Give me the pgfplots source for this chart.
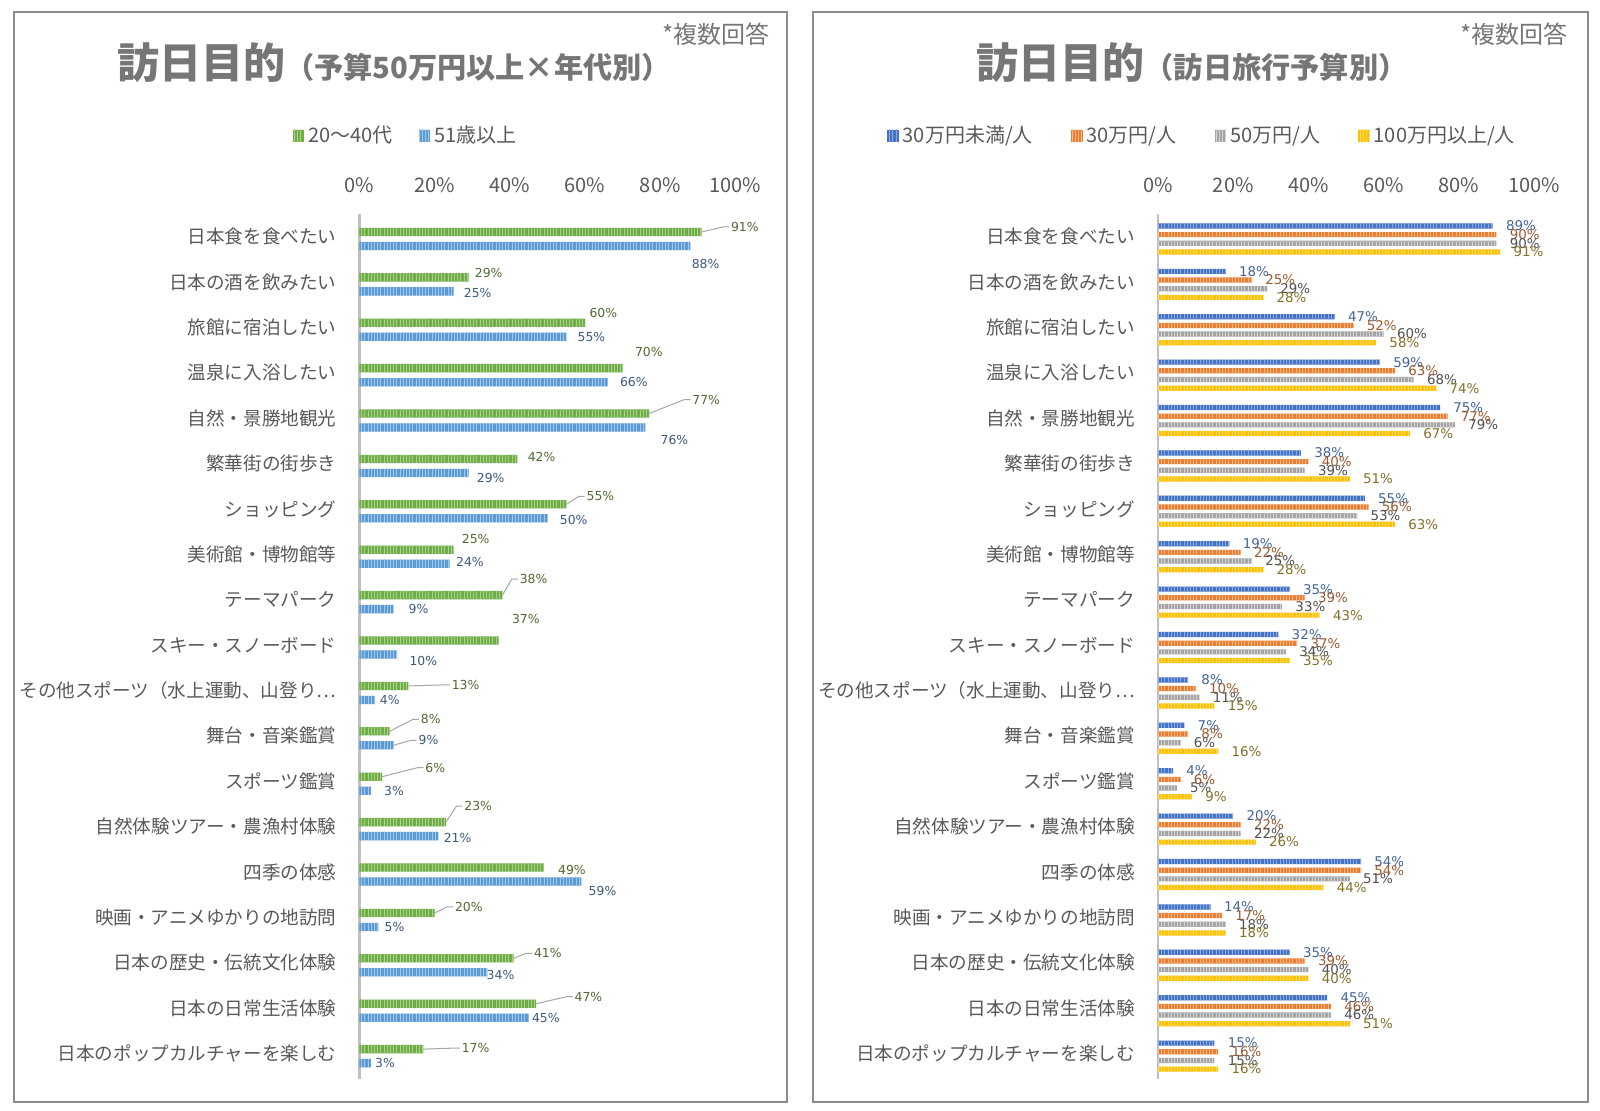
\documentclass[border=0pt]{standalone}
\usepackage{fontspec}
\setmainfont{Noto Sans CJK JP}
\newfontfamily\lbl{DejaVu Sans}
\usepackage{pgfplots}
\pgfplotsset{compat=1.18}
\usepackage{pgfplotstable}
\usetikzlibrary{patterns.meta}

\definecolor{gA}{HTML}{70AD47}\definecolor{gAl}{HTML}{A9D18E}
\definecolor{bA}{HTML}{5B9BD5}\definecolor{bAl}{HTML}{A4C8EA}
\definecolor{c1}{HTML}{4472C4}\definecolor{c1l}{HTML}{8FAADC}
\definecolor{c2}{HTML}{ED7D31}\definecolor{c2l}{HTML}{F6B98C}
\definecolor{c3}{HTML}{A5A5A5}\definecolor{c3l}{HTML}{D2D2D2}
\definecolor{c4}{HTML}{FFC000}\definecolor{c4l}{HTML}{FFDC73}
\definecolor{txt}{HTML}{595959}
\definecolor{ttl}{HTML}{767676}
\definecolor{border}{HTML}{8C8C8C}
\definecolor{axisgray}{HTML}{BFBFBF}
\definecolor{ldr}{HTML}{A6A6A6}
\definecolor{lG}{HTML}{4F6B30}
\definecolor{lB}{HTML}{3D5A80}
\definecolor{l1}{HTML}{44649A}
\definecolor{l2}{HTML}{9C5A30}
\definecolor{l3}{HTML}{505050}
\definecolor{l4}{HTML}{85702A}

\pgfplotstableread{
y g goff gdy glead b boff bdy blead
18 91 29 -5 1 88 1 18 0
17 29 6 -4 0 25 10 2 0
16 60 4 -10 0 55 11 0 0
15 70 12 -16 0 66 12 0 0
14 77 43 -14 1 76 15 12 0
13 42 10 -2 0 29 8 5 0
12 55 20 -8 1 50 12 2 0
11 25 8 -11 0 24 6 -2 0
10 38 17 -16 1 9 15 0 0
9 37 13 -22 0 10 12 6 0
8 13 43 -1 1 4 5 0 0
7 8 31 -12 1 9 25 -5 1
6 6 43 -9 1 3 13 0 0
5 23 18 -16 1 21 5 2 0
4 49 14 2 0 59 7 9 0
3 20 20 -6 1 5 6 0 0
2 41 20 -5 1 34 -1 3 0
1 47 38 -7 1 45 3 0 0
0 17 38 -1 1 3 4 0 0
}\leftdata

\pgfplotstableread{
y a b c d
18 89 90 90 91
17 18 25 29 28
16 47 52 60 58
15 59 63 68 74
14 75 77 79 67
13 38 40 39 51
12 55 56 53 63
11 19 22 25 28
10 35 39 33 43
9 32 37 34 35
8 8 10 11 15
7 7 8 6 16
6 4 6 5 9
5 20 22 22 26
4 54 54 51 44
3 14 17 18 18
2 35 39 40 40
1 45 46 46 51
0 15 16 15 16
}\rightdata

\pgfplotsset{
 panel/.style={
  scale only axis, width=188pt, height=432.4pt,
  xmin=0, xmax=100, ymin=-0.5, ymax=18.55,
  axis y line*=left, axis x line*=top,
  x axis line style={draw=none},
  y axis line style={draw=axisgray, line width=1.3pt, -},
  xtick={0,20,40,60,80,100},
  xticklabels={0\%,20\%,40\%,60\%,80\%,100\%},
  ytick={0,...,18},
  yticklabels={日本のポップカルチャーを楽しむ, 日本の日常生活体験, 日本の歴史・伝統文化体験, 映画・アニメゆかりの地訪問, 四季の体感, 自然体験ツアー・農漁村体験, スポーツ鑑賞, 舞台・音楽鑑賞, {その他スポーツ（水上運動、山登り…}, スキー・スノーボード, テーマパーク, 美術館・博物館等, ショッピング, 繁華街の街歩き, 自然・景勝地観光, 温泉に入浴したい, 旅館に宿泊したい, 日本の酒を飲みたい, 日本食を食べたい},
  major tick length=0pt,
  tick style={draw=none},
  xticklabel style={font=\fontsize{10}{12}\selectfont, text=txt, yshift=7pt},
  yticklabel style={font=\fontsize{9.3}{11}\selectfont, text=txt, xshift=-8pt, yshift=1.2pt},
  clip=false,
  legend style={draw=none, fill=none, legend columns=-1, font=\fontsize{10}{12}\selectfont, text=txt, inner sep=0pt},
  legend image code/.code={\fill[##1] (0pt,-3pt) rectangle (5.8pt,3pt);},
 },
 bars/.style 2 args={xbar, draw=none, fill=#1,
   postaction={pattern={Lines[angle=90,distance=1.6pt,line width=0.45pt]}, pattern color=#2}},
 mylabels/.style n args={5}{
    nodes near coords={\pgfmathprintnumber{\pgfplotspointmeta}\%},
    point meta=x,
    visualization depends on={\thisrow{#1} \as \loff},
    visualization depends on={\thisrow{#2} \as \ldy},
    visualization depends on={\thisrow{#3} \as \llead},
    every node near coord/.style={anchor=west, inner sep=0pt, text=#4, font=\lbl\fontsize{6.2}{7.5}\selectfont,
      /pgf/number format/assume math mode=true,
      xshift={\loff*0.5pt}, yshift={#5+\ldy*(-0.5pt)},
      append after command={(\tikzlastnode.west) edge[draw=ldr, fill=none, line width=0.5pt, opacity=\llead, to path={++(-0.8pt,0pt) -- ++(-3pt,0pt) -- (\tikztotarget)}] ([xshift={\loff*(-0.5pt)}, yshift={\ldy*0.5pt}]\tikzlastnode.west)}
    },
 },
 rlab/.style 2 args={nodes near coords={\pgfmathprintnumber{\pgfplotspointmeta}\%}, point meta=x,
    every node near coord/.style={anchor=west, inner sep=0pt, text=#1, font=\lbl\fontsize{6.7}{7.5}\selectfont,
      /pgf/number format/assume math mode=true, xshift=6.5pt, yshift=#2}},
}

\begin{document}
\begin{tikzpicture}[x=1pt,y=1pt]
\path[fill=white] (0,0) rectangle (800,-555.5);
\draw[draw=border, line width=1pt] (7,-6) rectangle (393.5,-551);
\draw[draw=border, line width=1pt] (406.5,-6) rectangle (794,-551);

\node[anchor=center, text=ttl, inner sep=0pt] at (197,-31.5) {{\fontsize{21}{25}\selectfont\bfseries 訪日目的}{\fontsize{14.6}{16}\selectfont\bfseries （予算50万円以上×年代別）}};
\node[anchor=center, text=ttl, inner sep=0pt] at (596,-31.5) {{\fontsize{21}{25}\selectfont\bfseries 訪日目的}{\fontsize{14.6}{16}\selectfont\bfseries （訪日旅行予算別）}};
\node[anchor=east, text=ttl, inner sep=0pt, font=\fontsize{12}{14}\selectfont] at (385,-17) {*複数回答};
\node[anchor=east, text=ttl, inner sep=0pt, font=\fontsize{12}{14}\selectfont] at (784,-17) {*複数回答};

\begin{axis}[panel, at={(179.75pt,-107pt)}, anchor=north west,
  legend style={at={(axis description cs:0.125,1)}, anchor=center, yshift=39pt,
    /tikz/every even column/.append style={column sep=11pt}}]
\addplot[bars={gA}{gAl}, bar width=4.15pt, bar shift=3.5pt, mylabels={goff}{gdy}{glead}{lG}{3.5pt}] table[x=g, y=y] {\leftdata};
\addlegendentry{20～40代}
\addplot[bars={bA}{bAl}, bar width=4.15pt, bar shift=-3.5pt, mylabels={boff}{bdy}{blead}{lB}{-3.5pt}] table[x=b, y=y] {\leftdata};
\addlegendentry{51歳以上}
\end{axis}

\begin{axis}[panel, at={(579pt,-107pt)}, anchor=north west,
  legend style={at={(axis description cs:0.12,1)}, anchor=center, yshift=39pt,
    /tikz/every even column/.append style={column sep=17pt}}]
\addplot[bars={c1}{c1l}, bar width=2.6pt, bar shift=6.5pt, rlab={l1}{6.5pt}] table[x=a, y=y] {\rightdata};
\addlegendentry{30万円未満/人}
\addplot[bars={c2}{c2l}, bar width=2.6pt, bar shift=2.17pt, rlab={l2}{2.17pt}] table[x=b, y=y] {\rightdata};
\addlegendentry{30万円/人}
\addplot[bars={c3}{c3l}, bar width=2.6pt, bar shift=-2.17pt, rlab={l3}{-2.17pt}] table[x=c, y=y] {\rightdata};
\addlegendentry{50万円/人}
\addplot[bars={c4}{c4l}, bar width=2.6pt, bar shift=-6.5pt, rlab={l4}{-6.5pt}] table[x=d, y=y] {\rightdata};
\addlegendentry{100万円以上/人}
\end{axis}
\end{tikzpicture}
\end{document}
